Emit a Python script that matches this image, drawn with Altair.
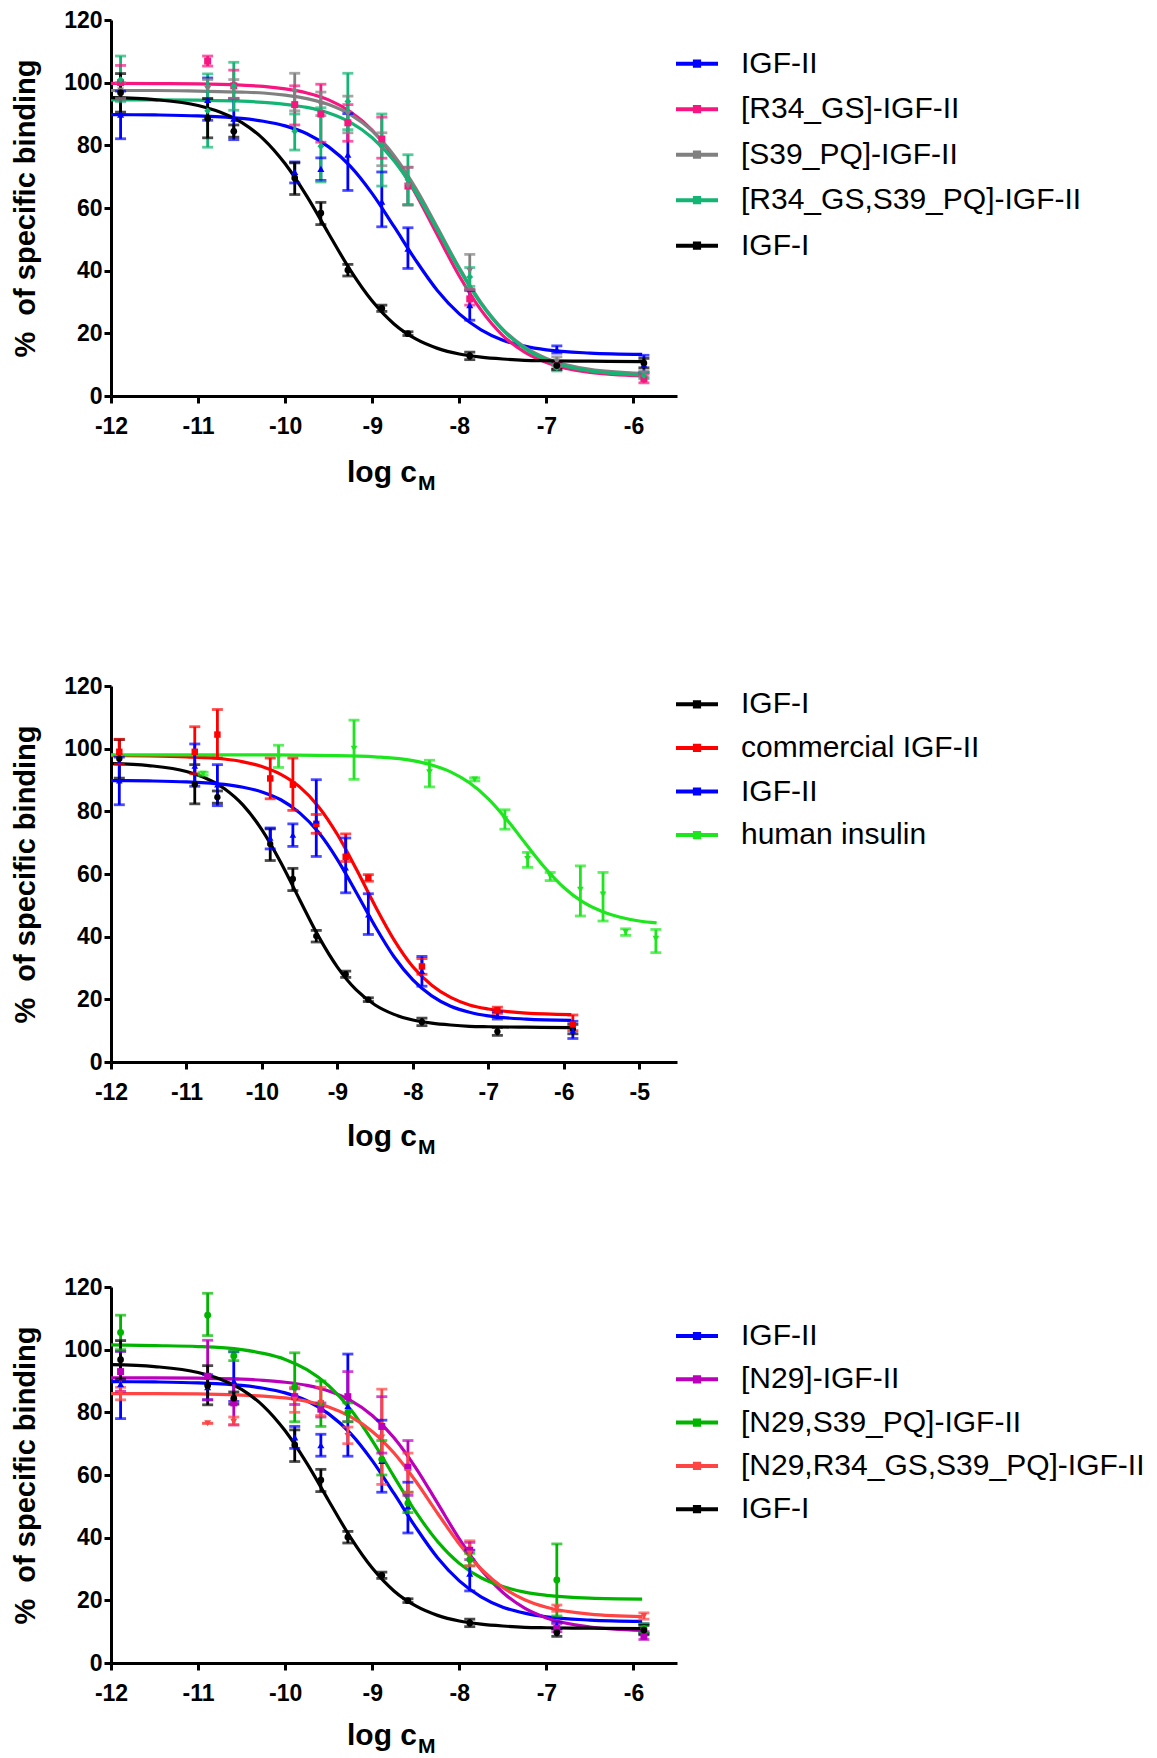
import altair as alt
import pandas as pd

FONT = "Liberation Sans"

# ---------------- data ----------------
X_PTS = [-11.89, -10.89, -10.59, -9.89, -9.59, -9.28, -8.89, -8.59, -7.88, -6.88, -5.88]
CURVE_X = [-12, -11.5, -11, -10.5, -10.25, -10, -9.75, -9.5, -9.25, -9, -8.75, -8.5,
           -8.25, -8, -7.75, -7.5, -7.25, -7, -6.5, -5.9]

IGF1_V = [96.8, 88.6, 84.5, 69.6, 58.4, 40.2, 28.0, 19.9, 12.8, 9.7, 10.5]
IGF1_LO = [90.6, 82.4, 82.6, 64.3, 54.7, 38.3, 27.0, 19.3, 11.6, 8.5, 9.0]
IGF1_HI = [102.9, 94.9, 86.5, 74.4, 61.8, 42.0, 29.0, 20.5, 14.0, 11.0, 12.0]
IGF1_CURVE = [95.2, 94.6, 92.7, 87.3, 82.0, 74.1, 63.7, 51.8, 40.1, 30.3, 23.0, 18.2,
              15.2, 13.4, 12.4, 11.8, 11.4, 11.25, 11.1, 11.0]

IGF2_V = [89.8, 94.5, 88.5, 71.5, 72.5, 77.0, 62.0, 47.0, 29.0, 14.8, 10.0]
IGF2_LO = [82.1, 88.0, 81.8, 68.0, 68.8, 65.6, 54.0, 40.7, 24.2, 13.7, 7.5]
IGF2_HI = [97.3, 101.5, 94.9, 74.7, 76.0, 90.1, 71.5, 53.7, 33.7, 16.0, 13.0]
IGF2_CURVE = [89.8, 89.7, 89.4, 88.6, 87.7, 86.2, 83.7, 79.5, 73.3, 64.6, 54.1, 43.3,
              33.6, 26.2, 21.1, 17.8, 15.9, 14.7, 13.7, 13.3]

R34_V = [100.0, 106.9, 99.0, 93.0, 90.0, 87.2, 82.0, 67.0, 31.0, 9.5, 5.5]
R34_LO = [94.5, 105.3, 95.0, 86.5, 81.0, 81.3, 75.9, 61.0, 29.0, 8.5, 4.2]
R34_HI = [105.5, 108.5, 104.0, 99.0, 99.5, 93.0, 89.0, 73.0, 34.0, 10.5, 7.0]
R34_CURVE = [99.8, 99.7, 99.6, 99.2, 98.8, 98.0, 96.7, 94.5, 90.7, 84.8, 76.1, 64.5,
             51.3, 38.3, 27.4, 19.3, 14.0, 10.7, 7.5, 6.4]

S39_V = [97.5, 98.0, 98.0, 97.0, 93.0, 90.0, 79.0, 67.0, 40.0, 11.0, 7.0]
S39_LO = [95.0, 95.0, 95.0, 91.0, 89.5, 84.0, 73.5, 61.0, 34.0, 9.5, 6.0]
S39_HI = [100.0, 101.0, 101.0, 103.0, 97.0, 95.7, 84.0, 73.0, 45.2, 12.5, 8.0]
S39_CURVE = [97.5, 97.5, 97.3, 97.0, 96.7, 96.0, 94.9, 93.0, 89.8, 84.6, 76.8, 66.3,
             53.7, 40.9, 29.8, 21.3, 15.6, 12.0, 8.5, 7.2]

R34S39_V = [101.0, 91.0, 99.0, 84.5, 79.7, 94.0, 80.0, 69.0, 38.0, 9.0, 6.5]
R34S39_LO = [94.0, 79.4, 91.2, 78.5, 68.3, 85.0, 67.0, 61.0, 35.0, 8.0, 5.5]
R34S39_HI = [108.5, 102.8, 106.5, 90.0, 92.0, 103.0, 90.0, 77.0, 41.0, 10.0, 7.5]
R34S39_CURVE = [94.5, 94.5, 94.4, 94.1, 93.7, 93.1, 92.1, 90.3, 87.3, 82.4, 75.1, 65.0,
                52.9, 40.4, 29.4, 21.0, 15.2, 11.5, 8.0, 6.7]

COMM_V = [99.0, 99.0, 104.5, 90.5, 88.5, 76.0, 65.5, 58.8, 30.5, 16.5, 12.0]
COMM_LO = [95.0, 92.0, 97.0, 84.0, 80.3, 73.0, 64.0, 57.7, 28.0, 15.5, 10.0]
COMM_HI = [103.0, 107.0, 112.5, 97.0, 97.0, 79.0, 72.8, 59.8, 33.0, 17.5, 15.0]
COMM_CURVE = [97.8, 97.7, 97.4, 96.7, 95.8, 94.3, 91.8, 87.8, 81.5, 72.6, 61.6, 49.8,
              39.0, 30.4, 24.5, 20.6, 18.2, 16.9, 15.6, 15.15]

INS_X = [-10.78, -9.78, -8.78, -7.78, -7.18, -6.78, -6.48, -6.18, -5.78, -5.48, -5.18, -4.78]
INS_V = [92.0, 97.3, 100.0, 92.5, 90.2, 77.5, 64.8, 59.3, 55.0, 53.5, 41.5, 39.4]
INS_LO = [91.5, 94.0, 90.2, 87.8, 89.7, 74.3, 62.1, 57.9, 46.6, 45.0, 40.4, 34.9]
INS_HI = [92.5, 101.1, 109.1, 96.3, 90.7, 80.5, 66.9, 60.5, 62.6, 60.5, 42.5, 42.3]
INS_CURVE_X = [-12, -11, -10, -9, -8.5, -8, -7.75, -7.5, -7.25, -7, -6.75, -6.5, -6.25,
               -6, -5.75, -5.5, -5.25, -5, -4.77]
INS_CURVE = [98.0, 98.0, 98.0, 97.8, 97.4, 96.2, 94.8, 92.6, 89.1, 84.0, 77.2, 69.5, 62.0,
             55.7, 51.1, 48.1, 46.2, 45.0, 44.4]

IGF2B_V = [89.0, 88.0, 90.0, 72.0, 69.5, 82.0, 64.5, 50.0, 28.5, 12.0, 11.0]
IGF2B_LO = [78.0, 84.0, 83.5, 68.5, 66.0, 66.0, 54.5, 41.5, 23.0, 11.0, 9.5]
IGF2B_HI = [99.5, 92.0, 99.3, 75.5, 73.0, 98.6, 77.5, 57.7, 36.0, 13.0, 12.5]

N29_V = [93.0, 91.5, 83.0, 85.0, 81.0, 85.0, 75.5, 62.5, 36.0, 11.0, 8.5]
N29_LO = [86.7, 84.0, 76.0, 82.5, 78.5, 77.0, 67.0, 53.5, 33.0, 10.0, 7.5]
N29_HI = [99.5, 103.0, 90.6, 87.5, 83.0, 93.0, 85.0, 71.0, 38.5, 12.5, 10.0]
N29_CURVE = [91.0, 91.0, 90.9, 90.6, 90.2, 89.6, 88.6, 86.8, 83.8, 79.0, 71.9, 62.3,
             51.0, 39.6, 29.8, 22.5, 17.5, 14.4, 11.5, 10.4]

N29S39_V = [105.5, 111.0, 98.0, 88.0, 83.0, 80.0, 65.0, 51.0, 33.0, 26.5, 11.0]
N29S39_LO = [100.0, 104.5, 96.5, 77.0, 75.5, 77.0, 60.0, 48.0, 31.0, 15.0, 9.5]
N29S39_HI = [111.0, 118.0, 99.5, 99.0, 90.0, 83.0, 71.0, 54.5, 35.0, 38.0, 12.5]
N29S39_CURVE = [101.5, 101.3, 101.0, 100.0, 98.8, 96.9, 93.6, 88.5, 81.0, 71.0, 59.5, 48.2,
                38.8, 31.8, 27.2, 24.4, 22.6, 21.6, 20.7, 20.4]

N29R_V = [86.0, 76.5, 77.0, 84.0, 83.0, 72.5, 72.0, 61.0, 35.0, 17.5, 15.0]
N29R_LO = [84.0, 76.5, 76.0, 80.0, 79.0, 70.0, 57.0, 54.5, 31.0, 16.5, 14.0]
N29R_HI = [88.0, 76.5, 78.5, 88.0, 88.0, 75.3, 87.4, 67.0, 39.0, 18.5, 16.0]
N29R_CURVE = [86.0, 86.0, 85.9, 85.5, 85.2, 84.6, 83.5, 81.7, 78.6, 73.9, 67.0, 58.0,
              47.8, 38.0, 30.0, 24.1, 20.2, 17.8, 15.6, 14.8]

# ---------------- helpers ----------------
W, H = 566, 376
LEG_PATH = "M-1,0L1,0M-0.1,-0.1L0.1,-0.1L0.1,0.1L-0.1,0.1Z"


def series(name, color, shape, size, xs, v, lo, hi, cx, cv):
    return dict(name=name, color=color, shape=shape, size=size, xs=xs, v=v, lo=lo,
                hi=hi, cx=cx, cv=cv)


def panel(specs, xmax, xticks, leg_y, row_pad, top_ext, bot_ext, title_dy):
    names = [s["name"] for s in specs]
    mks = ["m%d" % i for i in range(len(specs))]
    pts, caps, curves = [], [], []
    for s, mk in zip(specs, mks):
        for x, v, lo, hi in zip(s["xs"], s["v"], s["lo"], s["hi"]):
            pts.append(dict(series=s["name"], mk=mk, x=x, v=v, lo=lo, hi=hi))
            caps.append(dict(series=s["name"], x=x, v=lo))
            caps.append(dict(series=s["name"], x=x, v=hi))
        for x, v in zip(s["cx"], s["cv"]):
            curves.append(dict(series=s["name"], x=x, v=v))
    pts, caps, curves = pd.DataFrame(pts), pd.DataFrame(caps), pd.DataFrame(curves)

    cscale = alt.Scale(domain=names, range=[s["color"] for s in specs])
    xenc = alt.X("x:Q", scale=alt.Scale(domain=[-12, xmax], nice=False, zero=False),
                 axis=alt.Axis(values=xticks, title=None, labelExpr="'' + datum.value",
                               labelFlush=False, labelPadding=12))
    yaxis = alt.Axis(values=[0, 20, 40, 60, 80, 100, 120], title="%\u00a0 of specific binding",
                     labelPadding=2, titleAngle=270, titleAlign="center",
                     titleBaseline="middle", titleX=-86, titleY=H / 2)
    yscale = alt.Scale(domain=[0, 120], nice=False, zero=True)

    legend = alt.Legend(title=None, orient="none", legendX=563, legendY=leg_y,
                        symbolType=LEG_PATH, symbolSize=1764, symbolStrokeWidth=4,
                        labelFont=FONT, labelFontSize=30, labelColor="black",
                        labelLimit=700, labelOffset=21, rowPadding=row_pad, padding=0)

    line = alt.Chart(curves).mark_line(strokeWidth=3.2, interpolate="monotone").encode(
        x=xenc, y=alt.Y("v:Q", scale=yscale, axis=yaxis),
        color=alt.Color("series:N", scale=cscale, sort=names, legend=legend),
        detail="series:N")
    err = alt.Chart(pts).mark_rule(strokeWidth=2.8).encode(
        x=xenc, y=alt.Y("lo:Q", scale=yscale, axis=yaxis), y2="hi:Q",
        color=alt.Color("series:N", scale=cscale, legend=None))
    cap = alt.Chart(caps).mark_tick(orient="horizontal", size=11, thickness=2.8).encode(
        x=xenc, y=alt.Y("v:Q", scale=yscale, axis=yaxis),
        color=alt.Color("series:N", scale=cscale, legend=None))
    dots = alt.Chart(pts).mark_point(filled=True, opacity=1).encode(
        x=xenc, y=alt.Y("v:Q", scale=yscale, axis=yaxis),
        color=alt.Color("series:N", scale=cscale, legend=None),
        shape=alt.Shape("mk:N", scale=alt.Scale(domain=mks,
                        range=[s["shape"] for s in specs]), legend=None),
        size=alt.Size("mk:N", scale=alt.Scale(domain=mks,
                      range=[s["size"] for s in specs]), legend=None))

    one = pd.DataFrame({"t": ["log c"]})
    t1 = alt.Chart(one).mark_text(font=FONT, fontWeight="bold", fontSize=30, align="right",
                                  baseline="alphabetic", color="black").encode(
        text=alt.value("log c"), x=alt.value(306), y=alt.value(H + title_dy))
    t2 = alt.Chart(one).mark_text(font=FONT, fontWeight="bold", fontSize=21, align="left",
                                  baseline="alphabetic", color="black").encode(
        text=alt.value("M"), x=alt.value(307), y=alt.value(H + title_dy + 8))
    spacer = alt.Chart(one).mark_rule(color="white", strokeWidth=1).encode(
        x=alt.value(-110.5), y=alt.value(-top_ext), y2=alt.value(H + bot_ext))

    return alt.layer(spacer, line, err, cap, dots, t1, t2).properties(width=W, height=H)


BLUE, BLACK = "#0000FF", "#000000"

p1 = panel([
    series("IGF-II", BLUE, "triangle-up", 50, X_PTS, IGF2_V, IGF2_LO, IGF2_HI, CURVE_X, IGF2_CURVE),
    series("[R34_GS]-IGF-II", "#F7167F", "square", 45, X_PTS, R34_V, R34_LO, R34_HI, CURVE_X, R34_CURVE),
    series("[S39_PQ]-IGF-II", "#808080", "triangle-down", 50, X_PTS, S39_V, S39_LO, S39_HI, CURVE_X, S39_CURVE),
    series("[R34_GS,S39_PQ]-IGF-II", "#14B474", "diamond", 50, X_PTS, R34S39_V, R34S39_LO, R34S39_HI, CURVE_X, R34S39_CURVE),
    series("IGF-I", BLACK, "circle", 140, X_PTS, IGF1_V, IGF1_LO, IGF1_HI, CURVE_X, IGF1_CURVE),
], -5.5, [-12, -11, -10, -9, -8, -7, -6], 20.7, 7.5, 19, 110, 86)

p2 = panel([
    series("IGF-I", BLACK, "circle", 40, X_PTS, IGF1_V, IGF1_LO, IGF1_HI, CURVE_X, IGF1_CURVE),
    series("commercial IGF-II", "#FF0000", "square", 45, X_PTS, COMM_V, COMM_LO, COMM_HI, CURVE_X, COMM_CURVE),
    series("IGF-II", BLUE, "triangle-up", 50, X_PTS, IGF2_V, IGF2_LO, IGF2_HI, CURVE_X, IGF2_CURVE),
    series("human insulin", "#1EE61E", "triangle-down", 50, INS_X, INS_V, INS_LO, INS_HI, INS_CURVE_X, INS_CURVE),
], -4.5, [-12, -11, -10, -9, -8, -7, -6, -5], -4.7, 5.6, 178, 110, 84)

p3 = panel([
    series("IGF-II", BLUE, "triangle-up", 50, X_PTS, IGF2B_V, IGF2B_LO, IGF2B_HI, CURVE_X, IGF2_CURVE),
    series("[N29]-IGF-II", "#BB00BB", "square", 45, X_PTS, N29_V, N29_LO, N29_HI, CURVE_X, N29_CURVE),
    series("[N29,S39_PQ]-IGF-II", "#00B400", "circle", 55, X_PTS, N29S39_V, N29S39_LO, N29S39_HI, CURVE_X, N29S39_CURVE),
    series("[N29,R34_GS,S39_PQ]-IGF-II", "#FF4444", "triangle-down", 50, X_PTS, N29R_V, N29R_LO, N29R_HI, CURVE_X, N29R_CURVE),
    series("IGF-I", BLACK, "circle", 45, X_PTS, IGF1_V, IGF1_LO, IGF1_HI, CURVE_X, IGF1_CURVE),
], -5.5, [-12, -11, -10, -9, -8, -7, -6], 26, 5.3, 113, 92, 82)

chart = alt.vconcat(p1, p2, p3, spacing=0).resolve_scale(
    color="independent", shape="independent", size="independent"
).properties(padding=0, background="white").configure_view(stroke=None).configure_axis(
    grid=False, domainColor="black", domainWidth=3, tickColor="black", tickWidth=3,
    tickSize=7, labelFont=FONT, labelFontWeight="bold", labelFontSize=23,
    labelColor="black", titleFont=FONT, titleFontWeight="bold", titleFontSize=29,
    titleColor="black"
)

chart.save("out.html", embed_options={"renderer": "svg", "actions": False})
